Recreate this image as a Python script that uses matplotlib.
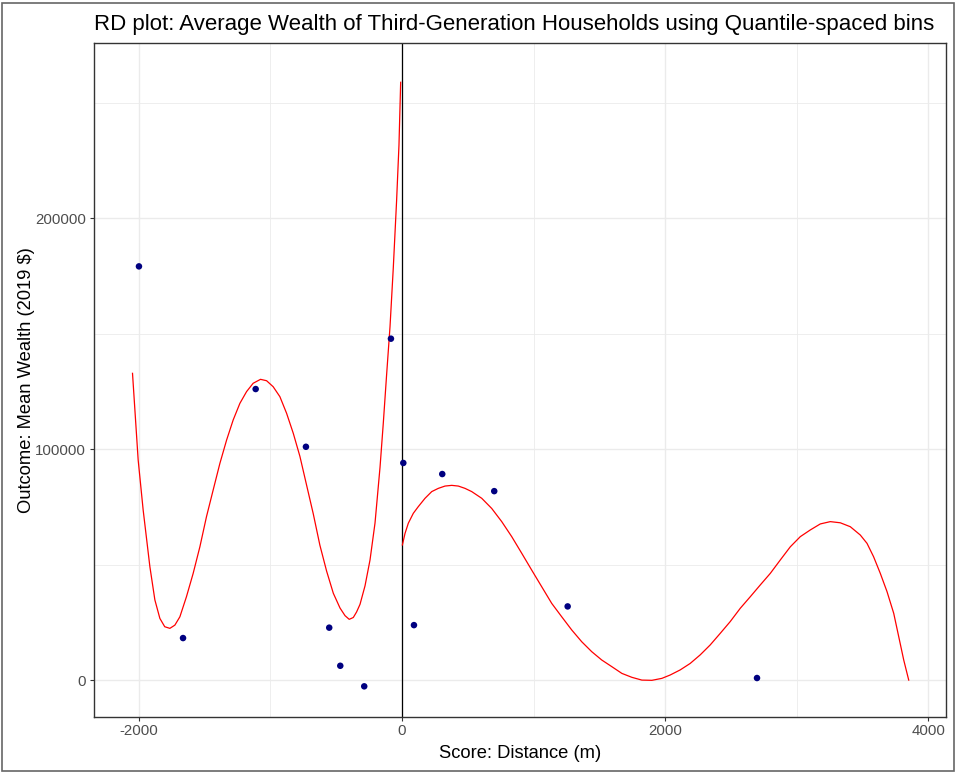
import matplotlib
matplotlib.use("Agg")
import matplotlib.pyplot as plt
from matplotlib.ticker import MultipleLocator
from matplotlib.patches import Rectangle

# -----------------------------------------------
# DATA
# -----------------------------------------------
bin_x = [-1999, -1664, -1112, -730, -553, -469, -287, -84,
         10, 91, 306, 701, 1259, 2698]
bin_y = [179200, 18300, 126100, 101100, 22800, 6300, -2600, 147900,
         94100, 23900, 89300, 81900, 32000, 1000]

# fitted polynomial, left of cutoff
fit_left_x = [-2048, -2005, -1967, -1916, -1878, -1840, -1803, -1764, -1726,
              -1688, -1638, -1587, -1536, -1486, -1435, -1384, -1333, -1283,
              -1232, -1181, -1131, -1075, -1029, -979, -928, -877, -826, -776,
              -725, -674, -624, -573, -522, -471, -433, -401, -370, -345, -319,
              -281, -243, -205, -167, -142, -117, -91, -66, -41, -23, -10]
fit_left_y = [132900, 95400, 73700, 49200, 34800, 26800, 23200, 22500, 23900,
              27500, 36200, 46300, 57800, 70800, 82400, 93900, 104000, 112700,
              119900, 125000, 128600, 130300, 129700, 127100, 122800, 115600, 106900, 97000,
              84500, 72000, 58500, 47300, 37700, 31300, 28000, 26400, 27200, 29600, 32900,
              40900, 52100, 68100, 92200, 111400, 132200, 153100, 178700, 207600, 231600, 258900]

# fitted polynomial, right of cutoff
fit_right_x = [3, 23, 48, 86, 124, 175, 226, 276, 327, 378, 428, 479, 530,
               606, 682, 758, 834, 910, 986, 1062, 1138, 1214, 1290, 1366,
               1442, 1518, 1595, 1671, 1747, 1823, 1899, 1975, 2038, 2114,
               2190, 2266, 2342, 2418, 2494, 2571, 2647, 2723, 2799, 2875,
               2951, 3027, 3103, 3179, 3255, 3331, 3407, 3483, 3534, 3584,
               3635, 3686, 3737, 3775, 3813, 3851]
fit_right_y = [58600, 63600, 68000, 72300, 75200, 78800, 81700, 83100, 84100,
               84400, 84100, 83100, 81700, 78800, 74400, 68700, 62200, 55000,
               47700, 40500, 33300, 27500, 21800, 16700, 12400, 8800, 5900, 3000,
               1300, 100, 0, 850, 2300, 4500, 7300, 11000, 15300, 20300, 25400,
               31200, 36200, 41300, 46300, 52100, 57800, 62200, 65100, 67700,
               68700, 68200, 66500, 62900, 59300, 53500, 46300, 38400, 29000,
               18900, 8800, 100]

TITLE = "RD plot: Average Wealth of Third-Generation Households using Quantile-spaced bins"
XLABEL = "Score: Distance (m)"
YLABEL = "Outcome: Mean Wealth (2019 $)"

# -----------------------------------------------
# FIGURE
# -----------------------------------------------
plt.rcParams['font.family'] = ['Liberation Sans', 'DejaVu Sans']
plt.rcParams['axes.unicode_minus'] = False

fig = plt.figure(figsize=(9.56, 7.72), dpi=100)
ax = fig.add_axes([0.098, 0.0716, 0.8915, 0.8727])

ax.set_xlim(-2343, 4134)
ax.set_ylim(-15757, 275900)

ax.xaxis.set_major_locator(MultipleLocator(2000))
ax.xaxis.set_minor_locator(MultipleLocator(1000))
ax.yaxis.set_major_locator(MultipleLocator(100000))
ax.yaxis.set_minor_locator(MultipleLocator(50000))
ax.set_yticks([0, 100000, 200000])
ax.set_yticklabels(["0", "100000", "200000"])

ax.grid(True, which='major', color='#EBEBEB', linewidth=1.0, zorder=0)
ax.grid(True, which='minor', color='#EBEBEB', linewidth=0.6, zorder=0)
ax.set_axisbelow(True)

ax.tick_params(which='major', length=3, width=0.8, color='#333333',
               labelcolor='#4D4D4D', labelsize=10.8, pad=2.5)
ax.tick_params(which='minor', length=0)
for s in ax.spines.values():
    s.set_color('#333333')
    s.set_linewidth(1.0)

ax.axvline(0, color='black', linewidth=0.9, zorder=2)
ax.plot(fit_left_x, fit_left_y, color='red', linewidth=0.9, zorder=3)
ax.plot(fit_right_x, fit_right_y, color='red', linewidth=0.9, zorder=3)
ax.scatter(bin_x, bin_y, s=22, color='#000080', edgecolors='none', zorder=4)

ax.set_title(TITLE, fontsize=16, color='black', loc='left', pad=9.5)
ax.set_xlabel(XLABEL, fontsize=13.2)
ax.set_ylabel(YLABEL, fontsize=13.2)
ax.xaxis.set_label_coords(0.5, -0.042)
ax.yaxis.set_label_coords(-0.069, 0.5)

# outer frame around the whole picture
fig.patches.append(Rectangle((0.002, 0.001), 0.996, 0.995, transform=fig.transFigure,
                             fill=False, edgecolor='#666666', linewidth=1.2))

fig.savefig("out.png", dpi=100)
